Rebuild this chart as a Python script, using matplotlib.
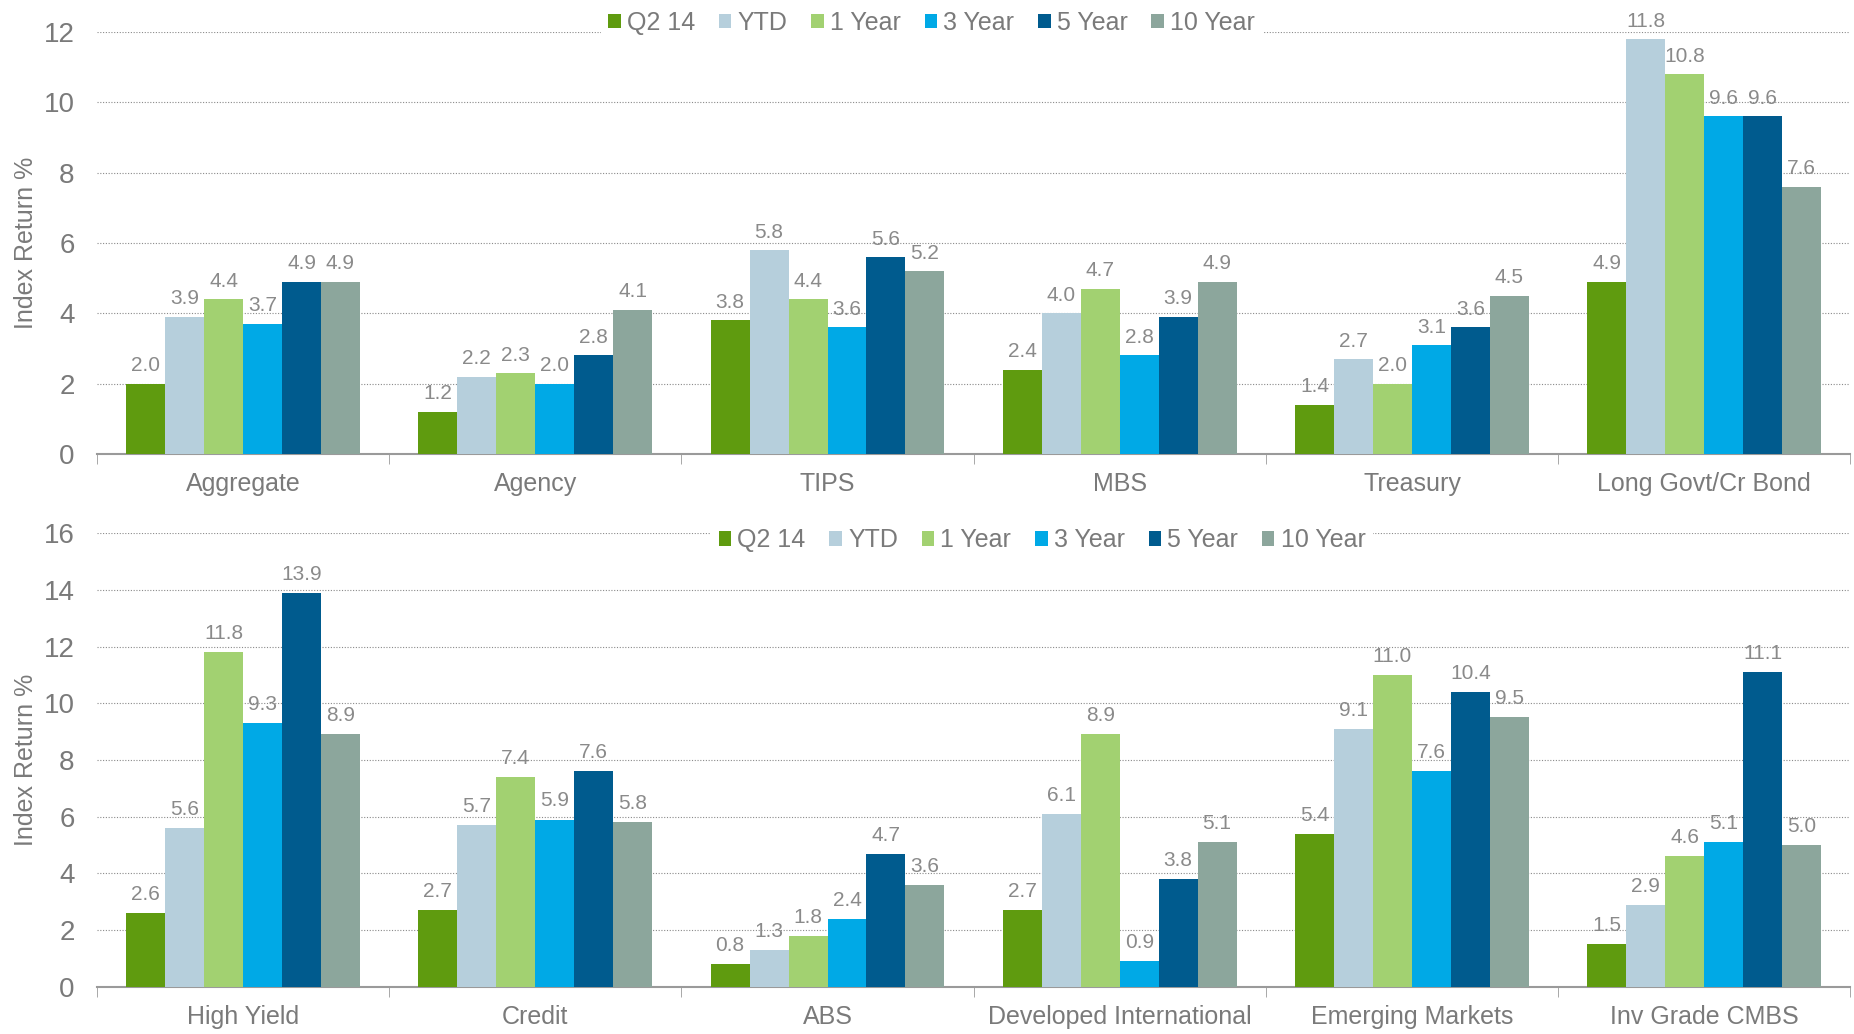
import matplotlib.pyplot as plt
import numpy as np

series = ['Q2 14', 'YTD', '1 Year', '3 Year', '5 Year', '10 Year']
colors = ['#5f9b0f', '#b6cfdc', '#a2d171', '#00a9e6', '#005b8e', '#8ca69c']

top_cats = ['Aggregate', 'Agency', 'TIPS', 'MBS', 'Treasury', 'Long Govt/Cr Bond']
top_vals = [
    [2.0, 1.2, 3.8, 2.4, 1.4, 4.9],    # Q2 14
    [3.9, 2.2, 5.8, 4.0, 2.7, 11.8],   # YTD
    [4.4, 2.3, 4.4, 4.7, 2.0, 10.8],   # 1 Year
    [3.7, 2.0, 3.6, 2.8, 3.1, 9.6],    # 3 Year
    [4.9, 2.8, 5.6, 3.9, 3.6, 9.6],    # 5 Year
    [4.9, 4.1, 5.2, 4.9, 4.5, 7.6],    # 10 Year
]

bot_cats = ['High Yield', 'Credit', 'ABS', 'Developed International',
            'Emerging Markets', 'Inv Grade CMBS']
bot_vals = [
    [2.6, 2.7, 0.8, 2.7, 5.4, 1.5],
    [5.6, 5.7, 1.3, 6.1, 9.1, 2.9],
    [11.8, 7.4, 1.8, 8.9, 11.0, 4.6],
    [9.3, 5.9, 2.4, 0.9, 7.6, 5.1],
    [13.9, 7.6, 4.7, 3.8, 10.4, 11.1],
    [8.9, 5.8, 3.6, 5.1, 9.5, 5.0],
]

plt.rcParams['font.family'] = ['Liberation Sans', 'DejaVu Sans']

txt = '#7a7a7a'
width = 0.8 / 6


def panel(ax, cats, vals, ymax, legx, legy):
    ind = np.arange(len(cats))
    for i, s in enumerate(series):
        x = ind - 0.4 + width * (i + 0.5)
        bars = ax.bar(x, vals[i], width, color=colors[i], label=s, zorder=3)
        for b, v in zip(bars, vals[i]):
            ax.text(b.get_x() + b.get_width() / 2, v + ymax * 0.02, '%.1f' % v,
                    ha='center', va='bottom', fontsize=15, color='#8a8a8a', zorder=4)
    ax.set_xlim(-0.5, len(cats) - 0.5)
    ax.set_ylim(0, ymax)
    ax.set_yticks(np.arange(0, ymax + 1, 2))
    ax.set_xticks(ind)
    ax.set_xticklabels(cats, fontsize=18, color=txt)
    ax.set_xticks(np.arange(-0.5, len(cats), 1), minor=True)
    ax.tick_params(axis='x', which='major', length=0, pad=13)
    ax.tick_params(axis='x', which='minor', length=7, color='#9a9a9a')
    ax.tick_params(axis='y', length=0, labelsize=20, labelcolor=txt, pad=16)
    for sp in ['top', 'right', 'left']:
        ax.spines[sp].set_visible(False)
    ax.spines['bottom'].set_color('#9a9a9a')
    ax.spines['bottom'].set_linewidth(1.5)
    ax.yaxis.grid(True, linestyle=(0, (1, 1.5)), color='#8a8a8a', linewidth=0.8, zorder=0)
    ax.set_axisbelow(True)
    ax.set_ylabel('Index Return %', fontsize=18, color=txt, labelpad=4)
    leg = ax.legend(loc='center', bbox_to_anchor=(legx, legy), ncol=6, frameon=True,
                    fontsize=18, handlelength=0.5, handleheight=0.5,
                    handletextpad=0.25, columnspacing=0.95, borderpad=0.3)
    leg.get_frame().set_facecolor('white')
    leg.get_frame().set_edgecolor('none')
    leg.get_frame().set_alpha(1)
    for t in leg.get_texts():
        t.set_color(txt)
    leg.set_zorder(5)


fig = plt.figure(figsize=(18.54, 10.34), dpi=100)
ax1 = fig.add_axes([0.0523, 0.561, 0.9457, 0.408])
ax2 = fig.add_axes([0.0523, 0.0455, 0.9457, 0.439])
panel(ax1, top_cats, top_vals, 12, 0.476, 1.022)
panel(ax2, bot_cats, bot_vals, 16, 0.539, 0.984)
fig.savefig('out.png', dpi=100)
